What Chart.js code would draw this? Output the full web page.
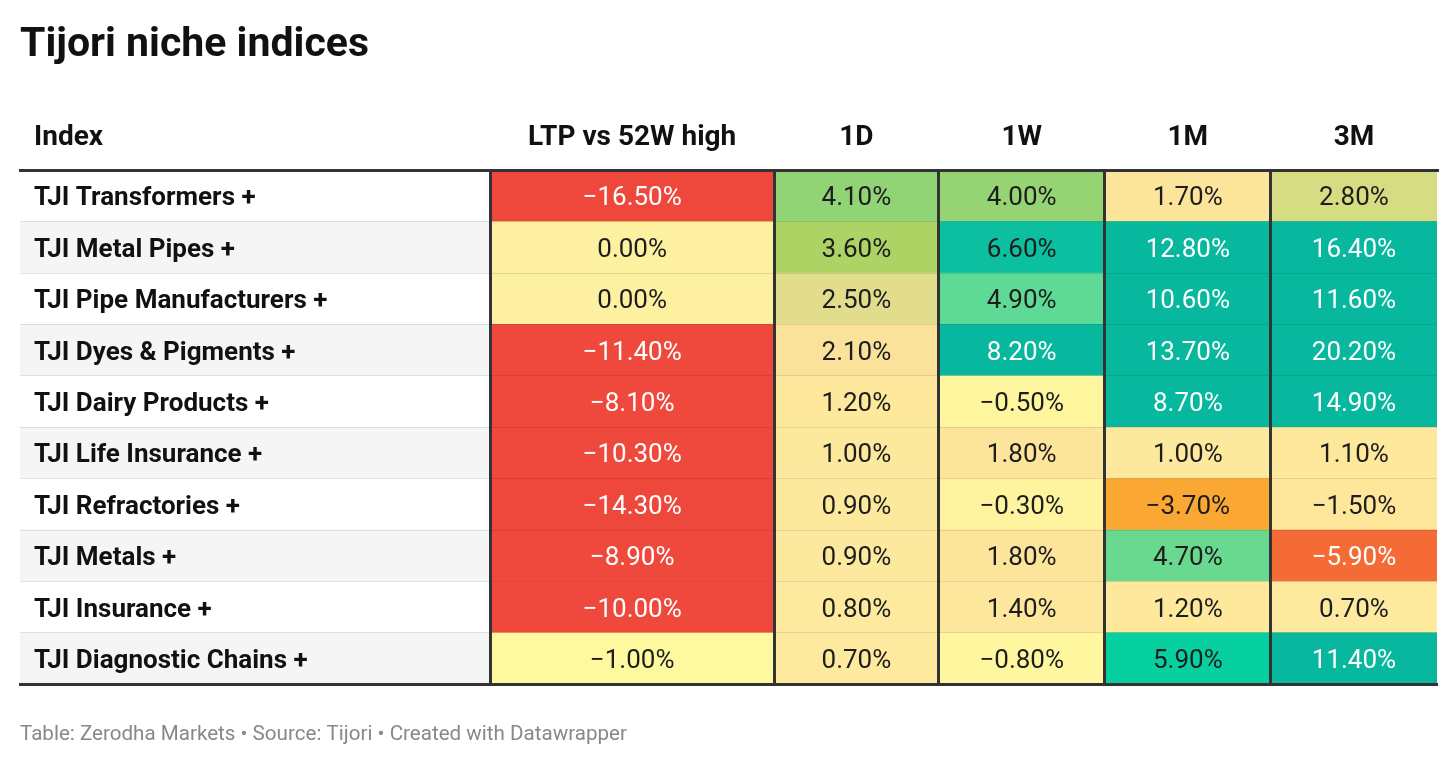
<!DOCTYPE html>
<html>
<head>
    <script src="https://cdn.jsdelivr.net/npm/chart.js@4.4.1/dist/chart.umd.min.js"></script>
    <style>
        body {
            margin: 0;
            padding: 0;
            background-color: white;
        }
        .wrap {
            width: 1456px;
            height: 766px;
        }
    </style>
</head>
<body>
    <div class="wrap">
        <canvas id="tableChart" width="1456" height="766"></canvas>
    </div>

    <script>
        const indices = ['TJI Transformers +', 'TJI Metal Pipes +', 'TJI Pipe Manufacturers +',
            'TJI Dyes & Pigments +', 'TJI Dairy Products +', 'TJI Life Insurance +',
            'TJI Refractories +', 'TJI Metals +', 'TJI Insurance +', 'TJI Diagnostic Chains +'];
        const headers = ['Index', 'LTP vs 52W high', '1D', '1W', '1M', '3M'];
        const ltpVs52wHigh = [-16.5, 0.0, 0.0, -11.4, -8.1, -10.3, -14.3, -8.9, -10.0, -1.0];
        const oneDay = [4.1, 3.6, 2.5, 2.1, 1.2, 1.0, 0.9, 0.9, 0.8, 0.7];
        const oneWeek = [4.0, 6.6, 4.9, 8.2, -0.5, 1.8, -0.3, 1.8, 1.4, -0.8];
        const oneMonth = [1.7, 12.8, 10.6, 13.7, 8.7, 1.0, -3.7, 4.7, 1.2, 5.9];
        const threeMonth = [2.8, 16.4, 11.6, 20.2, 14.9, 1.1, -1.5, -5.9, 0.7, 11.4];
        const valueColumns = [ltpVs52wHigh, oneDay, oneWeek, oneMonth, threeMonth];

        // Column widths in table units (index column is wide)
        const colWidths = [2.83, 1.71, 0.99, 1.0, 1.0, 1.0];
        const edges = [0];
        colWidths.forEach(w => edges.push(edges[edges.length - 1] + w));
        const tableEnd = edges[edges.length - 1];

        // Heat colour stops (value -> colour)
        const colorStops = [
            [-16.5, '#ee473b'], [-8, '#ef483c'], [-5.9, '#f46b35'], [-3.7, '#fba733'],
            [-1.5, '#fee69a'], [-1.0, '#fef99f'], [-0.3, '#fef39f'], [0, '#fdf0a0'],
            [0.7, '#fdea9e'], [1.2, '#fde89c'], [1.8, '#fce49b'], [2.1, '#fae29b'],
            [2.5, '#e2dd8d'], [2.8, '#d6dc82'], [3.6, '#acd364'], [4.0, '#96d372'],
            [4.7, '#69d98f'], [4.9, '#5ed996'], [5.9, '#07d0a0'], [6.6, '#0bbfa0'],
            [8, '#08b89e'], [25, '#08b89e']
        ];

        function hexToRgb(h) {
            return [parseInt(h.slice(1, 3), 16), parseInt(h.slice(3, 5), 16), parseInt(h.slice(5, 7), 16)];
        }

        function heatColor(v) {
            if (v <= colorStops[0][0]) return colorStops[0][1];
            for (let i = 1; i < colorStops.length; i++) {
                const [v1, c1] = colorStops[i];
                if (v <= v1) {
                    const [v0, c0] = colorStops[i - 1];
                    const t = (v - v0) / (v1 - v0);
                    const a = hexToRgb(c0), b = hexToRgb(c1);
                    const rgb = a.map((x, k) => Math.round(x + (b[k] - x) * t));
                    return `rgb(${rgb.join(',')})`;
                }
            }
            return colorStops[colorStops.length - 1][1];
        }

        function textColor(v) {
            return (v <= -5 || v >= 7) ? '#ffffff' : '#1d1d1d';
        }

        function fmt(v) {
            const s = Math.abs(v).toFixed(2) + '%';
            return v < 0 ? '\u2212' + s : s;
        }

        // Datasets: index column background + one per value column
        const datasets = [{
            label: headers[0],
            data: indices.map(() => [edges[0], edges[1]]),
            backgroundColor: ctx => ctx.dataIndex % 2 === 0 ? '#ffffff' : '#f5f5f5'
        }];
        valueColumns.forEach((col, c) => {
            datasets.push({
                label: headers[c + 1],
                data: col.map(() => [edges[c + 1], edges[c + 2]]),
                backgroundColor: ctx => heatColor(col[ctx.dataIndex])
            });
        });
        datasets.forEach(ds => {
            ds.grouped = false;
            ds.barPercentage = 1;
            ds.categoryPercentage = 1;
            ds.borderWidth = 0;
        });

        // Headers and cell values
        const cellText = {
            id: 'cellText',
            afterDatasetsDraw(chart) {
                const ctx = chart.ctx;
                ctx.save();
                ctx.textAlign = 'center';
                ctx.textBaseline = 'middle';
                ctx.font = '400 26px Roboto';
                valueColumns.forEach((col, c) => {
                    const meta = chart.getDatasetMeta(c + 1);
                    meta.data.forEach((el, i) => {
                        const p = el.getCenterPoint();
                        ctx.fillStyle = textColor(col[i]);
                        ctx.fillText(fmt(col[i]), p.x, p.y + 3);
                    });
                });
                ctx.restore();
            },
            afterDraw(chart) {
                const ctx = chart.ctx;
                const x = chart.scales.x;
                const top = chart.chartArea.top;
                ctx.save();
                ctx.font = '700 28px Roboto';
                ctx.fillStyle = '#111111';
                ctx.textBaseline = 'middle';
                ctx.textAlign = 'left';
                ctx.fillText(headers[0], x.left + 14, top - 32);
                ctx.textAlign = 'center';
                for (let c = 1; c < headers.length; c++) {
                    ctx.fillText(headers[c], x.getPixelForValue((edges[c] + edges[c + 1]) / 2), top - 32);
                }
                ctx.restore();
            }
        };

        Chart.defaults.font.family = 'Roboto';

        new Chart(document.getElementById('tableChart'), {
            type: 'bar',
            data: { labels: indices, datasets: datasets },
            options: {
                indexAxis: 'y',
                responsive: false,
                animation: false,
                events: [],
                layout: { padding: { left: 20, right: 19, top: 0, bottom: 0 } },
                scales: {
                    y: {
                        type: 'category',
                        z: 1,
                        afterFit: scale => { scale.width = 0; },
                        grid: { z: 1, color: 'rgba(0,0,0,0.1)', lineWidth: 1, drawTicks: false },
                        border: { display: false },
                        ticks: {
                            z: 1,
                            mirror: true,
                            padding: 14,
                            labelOffset: 3,
                            color: '#111111',
                            font: { size: 26, weight: '700' }
                        }
                    },
                    x: {
                        type: 'linear',
                        position: 'top',
                        min: 0,
                        max: tableEnd,
                        z: 1,
                        afterBuildTicks: scale => {
                            scale.ticks = edges.slice(1, -1).map(v => ({ value: v }));
                        },
                        grid: { z: 1, color: '#333333', lineWidth: 3, drawTicks: false },
                        border: { z: 1, display: true, color: '#333333', width: 3 },
                        ticks: { display: false }
                    },
                    x2: {
                        type: 'linear',
                        position: 'bottom',
                        min: 0,
                        max: tableEnd,
                        z: 1,
                        grid: { display: false, drawTicks: false },
                        border: { z: 1, display: true, color: '#333333', width: 3 },
                        ticks: { display: false }
                    }
                },
                plugins: {
                    legend: { display: false },
                    tooltip: { enabled: false },
                    title: {
                        display: true,
                        text: 'Tijori niche indices',
                        align: 'start',
                        color: '#111111',
                        font: { size: 41, weight: '700' },
                        padding: { top: 21, bottom: 100 }
                    },
                    subtitle: {
                        display: true,
                        position: 'bottom',
                        align: 'start',
                        text: 'Table: Zerodha Markets \u2022 Source: Tijori \u2022 Created with Datawrapper',
                        color: '#888888',
                        font: { size: 20.6, weight: '400' },
                        padding: { top: 38, bottom: 19 }
                    }
                }
            },
            plugins: [cellText]
        });
    </script>
</body>
</html>
